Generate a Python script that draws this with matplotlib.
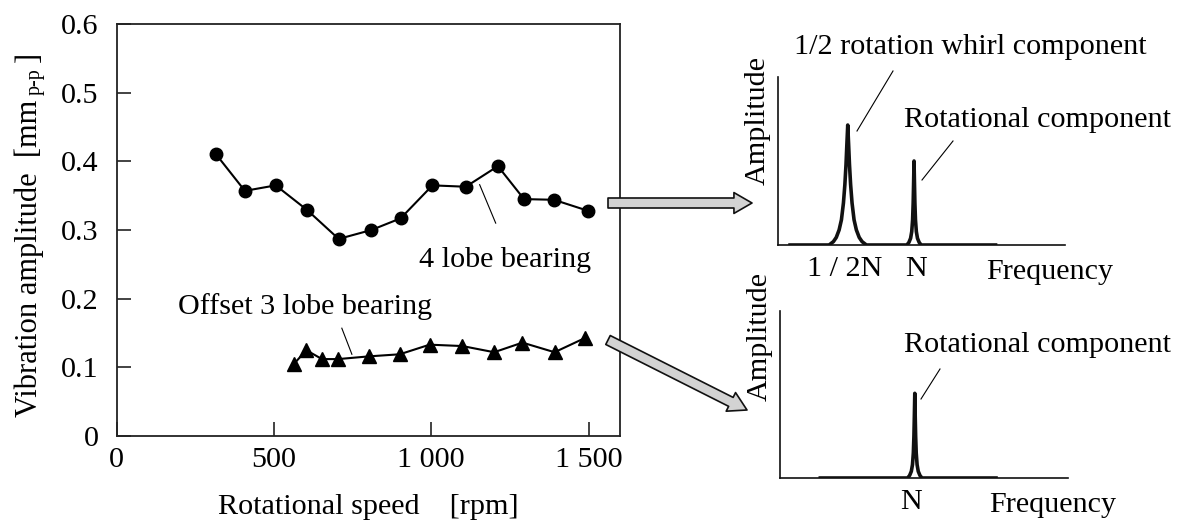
import matplotlib
matplotlib.use('Agg')
import matplotlib.pyplot as plt
from matplotlib.patches import FancyArrowPatch
from matplotlib.lines import Line2D

plt.rcParams['font.family'] = ['Liberation Serif', 'DejaVu Serif']
plt.rcParams['font.size'] = 21.7

# ---------------- data ----------------
speed_4lobe = [315, 408, 506, 606, 706, 810, 903, 1004, 1110, 1212, 1295, 1390, 1498]
amp_4lobe = [0.411, 0.357, 0.365, 0.329, 0.287, 0.300, 0.317, 0.365, 0.363, 0.393, 0.345, 0.344, 0.328]

speed_3lobe = [564, 603, 653, 704, 803, 900, 995, 1099, 1200, 1290, 1392, 1490]
amp_3lobe = [0.105, 0.125, 0.112, 0.112, 0.116, 0.119, 0.133, 0.131, 0.122, 0.136, 0.122, 0.143]

x_ticks = [0, 500, 1000, 1500]
x_ticklabels = ['0', '500', '1 000', '1 500']
y_ticks = [0, 0.1, 0.2, 0.3, 0.4, 0.5, 0.6]
y_ticklabels = ['0', '0.1', '0.2', '0.3', '0.4', '0.5', '0.6']

# schematic spectra (relative frequency, relative amplitude)
freq_top = [0.042, 0.178, 0.193, 0.203, 0.213, 0.221, 0.228, 0.233, 0.237, 0.240,
            0.243,
            0.246, 0.249, 0.253, 0.258, 0.265, 0.273, 0.283, 0.293, 0.308,
            0.449, 0.456, 0.462, 0.466, 0.469, 0.471, 0.4725,
            0.474,
            0.4755, 0.477, 0.479, 0.482, 0.486, 0.492, 0.499, 0.758]
amp_top = [0.0, 0.0, 0.02, 0.045, 0.09, 0.15, 0.25, 0.36, 0.48, 0.60,
           0.714,
           0.60, 0.48, 0.36, 0.25, 0.15, 0.09, 0.045, 0.02, 0.0,
           0.0, 0.015, 0.04, 0.08, 0.15, 0.25, 0.37,
           0.50,
           0.37, 0.25, 0.15, 0.08, 0.04, 0.015, 0.0, 0.0]
ticks_top = [0.233, 0.481]
ticklabels_top = ['1 / 2N', 'N']

freq_bot = [0.14, 0.443, 0.450, 0.456, 0.460, 0.463, 0.465, 0.4665,
            0.468,
            0.4695, 0.471, 0.473, 0.476, 0.480, 0.486, 0.493, 0.75]
amp_bot = [0.0, 0.0, 0.015, 0.04, 0.08, 0.15, 0.25, 0.37,
           0.507,
           0.37, 0.25, 0.15, 0.08, 0.04, 0.015, 0.0, 0.0]
ticks_bot = [0.455]
ticklabels_bot = ['N']

W, H = 1181, 528
fig = plt.figure(figsize=(W / 100, H / 100), dpi=100)


def fx(x):
    return x / W


def fy(y):
    return 1 - y / H


def rect(l, t, r, b):
    return [fx(l), fy(b), (r - l) / W, (b - t) / H]


# ---------------- main chart ----------------
ax = fig.add_axes(rect(116.5, 24, 620, 436))
ax.plot(speed_4lobe, amp_4lobe, color='black', lw=1.5, marker='o', ms=9, zorder=3)
ax.plot(speed_3lobe, amp_3lobe, color='black', lw=1.5, marker='^', ms=9.5, zorder=3)
ax.set_xlim(0, 1600)
ax.set_ylim(0, 0.6)
ax.set_xticks(x_ticks, x_ticklabels)
ax.set_yticks(y_ticks, y_ticklabels)
ax.tick_params(direction='in', length=10, width=1.2, color='#222222')
ax.tick_params(axis='y', pad=13)
ax.tick_params(axis='x', pad=8)
for s in ax.spines.values():
    s.set_linewidth(1.3)
    s.set_color('#222222')
ax.set_xlabel('Rotational speed    [rpm]', labelpad=15)

ax.text(1236, 0.256, '4 lobe bearing', ha='center', va='center')
ax.text(598, 0.188, 'Offset 3 lobe bearing', ha='center', va='center')
ax.plot([1154, 1205], [0.366, 0.310], color='black', lw=0.8)
ax.plot([716, 748], [0.157, 0.119], color='black', lw=0.8)

# y label with subscript
fig.text(fx(37), fy(100), 'Vibration amplitude  [mm', rotation=90,
         rotation_mode='anchor', ha='right', va='baseline', fontsize=22)
fig.text(fx(40), fy(95), 'p-p', rotation=90, rotation_mode='anchor',
         ha='left', va='baseline', fontsize=14.5)
fig.text(fx(37), fy(62), ']', rotation=90, rotation_mode='anchor',
         ha='left', va='baseline', fontsize=22)


# ---------------- spectra ----------------
def spectrum(box, freq, amp, ticks, labels, amp_center_y):
    a = fig.add_axes(box)
    a.plot(freq, amp, color='#111111', lw=2.6, solid_joinstyle='round')
    a.set_xlim(0, 1)
    a.set_ylim(0, 1)
    for side in ['top', 'right']:
        a.spines[side].set_visible(False)
    for side in ['left', 'bottom']:
        a.spines[side].set_linewidth(1.2)
        a.spines[side].set_color('#111111')
    a.set_xticks(ticks, labels)
    a.set_yticks([])
    a.tick_params(axis='x', length=0, pad=8)
    a.text(0.946, -0.16, 'Frequency', transform=a.transAxes, ha='center', va='center')
    a.text(-0.072, amp_center_y, 'Amplitude', transform=a.transAxes, rotation=90,
           ha='center', va='center')
    return a


spectrum(rect(778, 77, 1065, 245), freq_top, amp_top, ticks_top, ticklabels_top, 0.74)
spectrum(rect(780, 311, 1068, 478), freq_bot, amp_bot, ticks_bot, ticklabels_bot, 0.85)

fig.text(fx(970), fy(47), '1/2 rotation whirl component', ha='center', va='center')
fig.text(fx(1037), fy(120), 'Rotational component', ha='center', va='center')
fig.text(fx(1037), fy(345), 'Rotational component', ha='center', va='center')

for (x0, y0, x1, y1) in [(893, 71, 857, 131), (953, 141, 922, 180), (940, 369, 921, 399)]:
    fig.add_artist(Line2D([fx(x0), fx(x1)], [fy(y0), fy(y1)], color='black', lw=0.8,
                          transform=fig.transFigure))

# ---------------- arrows ----------------
for (x0, y0, x1, y1) in [(608, 203, 752, 203), (608, 340, 747, 410)]:
    arr = FancyArrowPatch((fx(x0), fy(y0)), (fx(x1), fy(y1)), transform=fig.transFigure,
                          arrowstyle='simple,head_length=1.3,head_width=1.5,tail_width=0.72',
                          mutation_scale=10, shrinkA=0, shrinkB=0,
                          facecolor='#d3d3d3', edgecolor='#111111', lw=1.2, zorder=10)
    fig.add_artist(arr)

fig.savefig('out.png', dpi=100)
